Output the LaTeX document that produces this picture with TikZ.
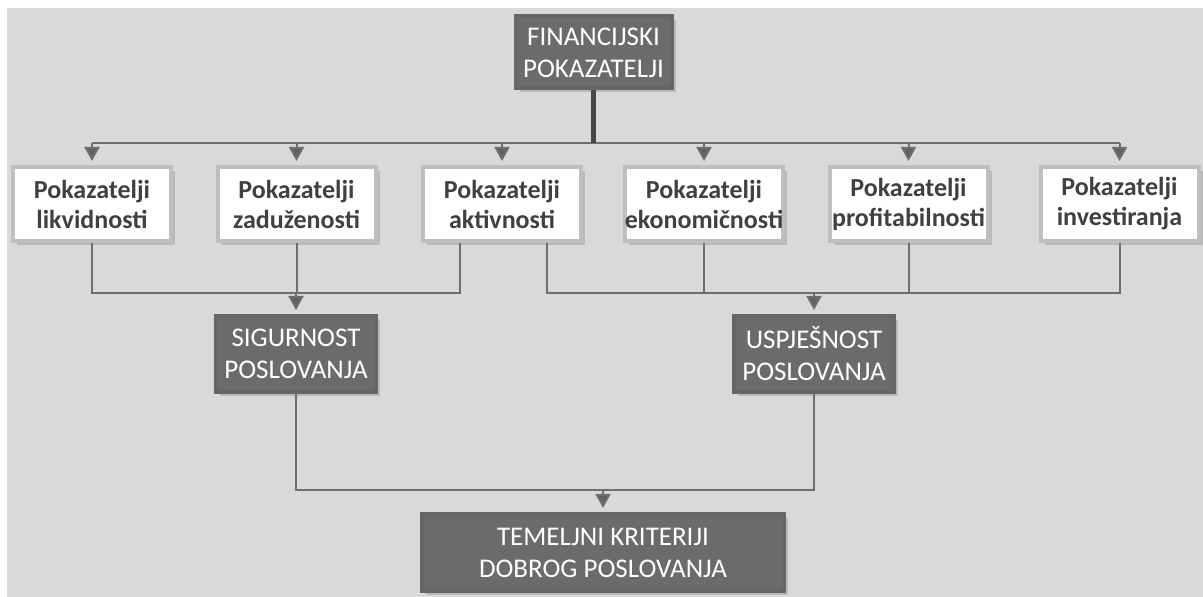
\documentclass[tikz,border=0pt]{standalone}
\usepackage{fontspec}
\setmainfont{Carlito}
\usepackage{tikz}
\usetikzlibrary{arrows.meta}
\usetikzlibrary{calc}
\usetikzlibrary{shadows}
\definecolor{bggray}{HTML}{D9D9D9}
\definecolor{boxdark}{HTML}{6B6B6B}
\definecolor{linegray}{HTML}{6E6E6E}
\definecolor{textgray}{HTML}{404040}
\tikzset{shade box/.style={drop shadow={shadow xshift=2pt,shadow yshift=-2pt,opacity=0.35}},
         darkbox/.style={shade box,draw=black!60,line width=2pt,fill=boxdark,text=white,
                         align=center,inner sep=0pt,font=\fontsize{13.5}{16}\selectfont},
         lightbox/.style={shade box,draw=black!25,line width=2pt,fill=white,text=textgray,
                          align=center,inner sep=0pt,minimum width=79pt,minimum height=37pt,
                          font=\bfseries\fontsize{13}{15}\selectfont},
         link/.style={draw=linegray,line width=1pt},
         arr/.style={link,-{Triangle[width=7.5pt,length=7pt,fill=black!62]},shorten >=2pt},
         trunk/.style={draw=black!72,line width=2.5pt}}

\begin{document}
\begin{tikzpicture}[x=0.5pt,y=-0.5pt]
\useasboundingbox (0,0) rectangle (1203,597);
\fill[bggray] (7,8) rectangle (1203,597);
\coordinate (bus1) at (0,143);
\coordinate (bus2) at (0,293);
\coordinate (bus3) at (0,490);
\node[darkbox,minimum width=78pt,minimum height=36pt] (fin) at (593.5,52.5) {FINANCIJSKI\\POKAZATELJI};
\node[lightbox] (liq) at (92,204) {Pokazatelji\\likvidnosti};
\node[lightbox] (zad) at (296.5,204) {Pokazatelji\\zaduženosti};
\node[lightbox] (akt) at (502,204) {Pokazatelji\\aktivnosti};
\node[lightbox] (eko) at (704,204) {Pokazatelji\\ekonomičnosti};
\node[lightbox] (pro) at (908.5,204) {Pokazatelji\\profitabilnosti};
\node[lightbox] (inv) at (1119.5,204) {Pokazatelji\\investiranja};
\node[darkbox,minimum width=80pt,minimum height=38pt] (sig) at (296,354) {SIGURNOST\\POSLOVANJA};
\node[darkbox,minimum width=80pt,minimum height=38pt] (usp) at (814,354) {USPJEŠNOST\\POSLOVANJA};
\node[darkbox,minimum width=181pt,minimum height=38.5pt] (tem) at (603,552.5) {TEMELJNI KRITERIJI\\DOBROG POSLOVANJA};
\coordinate (aktl) at ($(akt.south)+(-42,0)$);
\coordinate (aktr) at ($(akt.south)+(45,0)$);
\draw[link] (liq.north |- bus1) -- (inv.north |- bus1);
\draw[trunk] (fin.south) -- (fin.south |- bus1);
\foreach \n in {liq,zad,akt,eko,pro,inv}
  \draw[arr] (\n.north |- bus1) -- (\n.north);
\draw[link] (liq.south) -- (liq.south |- bus2) -- (aktl |- bus2) -- (aktl);
\draw[link] (zad.south) -- (zad.south |- bus2);
\draw[arr] (sig.north |- bus2) -- (sig.north);
\draw[link] (aktr) -- (aktr |- bus2) -- (inv.south |- bus2) -- (inv.south);
\foreach \n in {eko,pro}
  \draw[link] (\n.south) -- (\n.south |- bus2);
\draw[arr] (usp.north |- bus2) -- (usp.north);
\draw[link] (sig.south) -- (sig.south |- bus3) -- (usp.south |- bus3) -- (usp.south);
\draw[arr] (tem.north |- bus3) -- (tem.north);
\end{tikzpicture}
\end{document}
